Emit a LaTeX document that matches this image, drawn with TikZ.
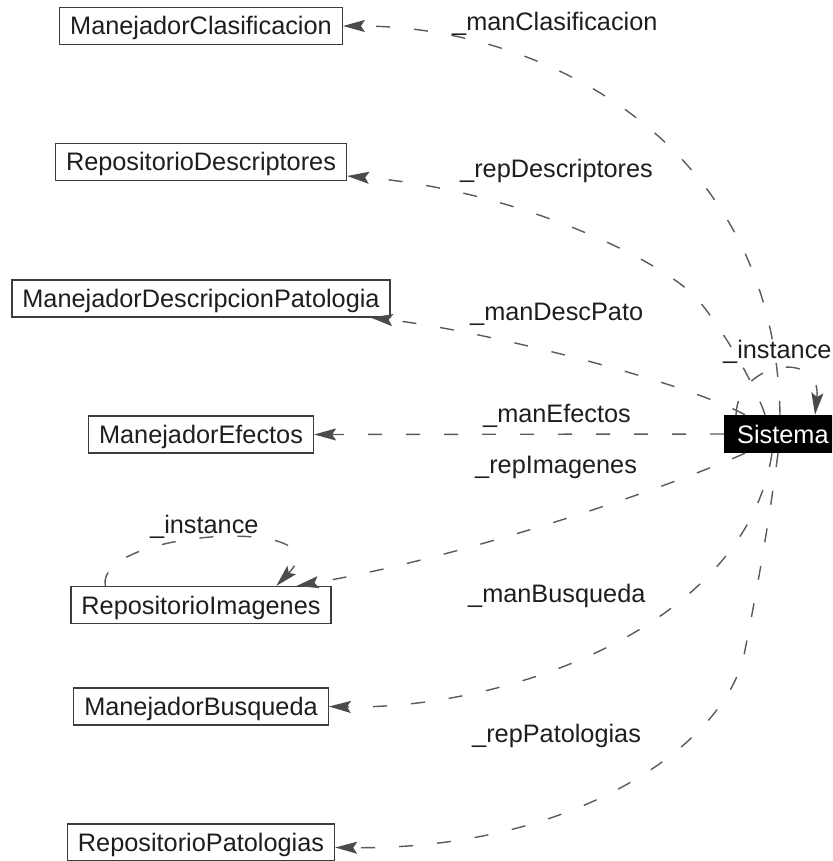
\documentclass[tikz,border=0pt]{standalone}
\usepackage{fontspec}
\setmainfont{Liberation Sans}
\usetikzlibrary{arrows.meta}
\definecolor{boxline}{RGB}{60,60,60}
\definecolor{depline}{RGB}{90,90,90}
\definecolor{tipfill}{RGB}{75,75,75}
\definecolor{labeltext}{RGB}{30,30,30}
\begin{document}
\begin{tikzpicture}[x=1pt,y=-1pt,
  every node/.style={font=\fontsize{25.3}{30}\selectfont, text=labeltext},
  classbox/.style={draw=boxline, line width=1.3pt, fill=white, inner xsep=10.5pt,
    inner ysep=0pt, minimum height=37pt, text height=18pt, text depth=0pt},
  mainbox/.style={fill=black, text=white, inner xsep=13pt, inner ysep=0pt,
    minimum height=38pt, text height=18pt, text depth=0pt, anchor=west},
  rolelabel/.style={inner sep=0pt, anchor=base west},
  dep/.style={depline, line width=1.4pt, dash pattern=on 14pt off 24pt,
    -{Stealth[length=22pt,width=12pt,inset=4pt,color=tipfill]}}]

% canvas
\path[use as bounding box] (0,0) rectangle (832,861);
\clip (0,0) rectangle (832,861);
\fill[white] (0,0) rectangle (832,861);

% classes
\node[classbox] (mc)  at (201,26)    {ManejadorClasificacion};
\node[classbox] (rd)  at (201,162)   {RepositorioDescriptores};
\node[classbox] (mdp) at (201,298.5) {ManejadorDescripcionPatologia};
\node[classbox] (me)  at (201,434.5) {ManejadorEfectos};
\node[classbox] (ri)  at (201,605)   {RepositorioImagenes};
\node[classbox] (mb)  at (201,706.5) {ManejadorBusqueda};
\node[classbox] (rp)  at (201,842.5) {RepositorioPatologias};
\node[mainbox]  (sis) at (724,434)   {Sistema};

% associations from Sistema
\draw[dep] ([xshift=56pt]sis.north west) .. controls (775,140) and (540,26) .. (mc.east);
\draw[dep] ([xshift=41pt]sis.north west) .. controls (757,390) and (730,340) .. (700,302)
           .. controls (670,264) and (520,190) .. ([yshift=-14pt]rd.east);
\draw[dep] ([xshift=21pt]sis.north west) .. controls (680,380) and (480,330) .. ([xshift=-20pt]mdp.south east);
\draw[dep] (sis.west) -- (me.east);
\draw[dep] ([xshift=21pt]sis.south west) .. controls (650,495) and (450,560) .. ([xshift=-35pt]ri.north east);
\draw[dep] ([xshift=48pt]sis.south west) .. controls (745,630) and (500,710) .. (mb.east);
\draw[dep] ([xshift=54pt]sis.south west) .. controls (768,530) and (755,600) .. (745,650)
           .. controls (730,740) and (580,850) .. ([yshift=-5pt]rp.east);

% self references
\draw[dep] ([xshift=12pt]sis.north west) .. controls (738,360) and (822,350) .. ([xshift=91pt]sis.north west);
\draw[dep] ([xshift=35pt]ri.north west) .. controls (95,530) and (345,515) .. ([xshift=206pt]ri.north west);

% role names
\node[rolelabel] (lmc)  at (452,31)  {\_manClasificacion};
\node[rolelabel] (lrd)  at (460,178) {\_repDescriptores};
\node[rolelabel] (lmdp) at (470,320) {\_manDescPato};
\node[rolelabel] (lme)  at (483,422) {\_manEfectos};
\node[rolelabel] (lsi)  at (723,358) {\_instance};
\node[rolelabel] (lri)  at (475,473) {\_repImagenes};
\node[rolelabel] (lmb)  at (468,602) {\_manBusqueda};
\node[rolelabel] (lrp)  at (472,742) {\_repPatologias};
\node[rolelabel] (lrii) at (150,533) {\_instance};
\end{tikzpicture}
\end{document}
